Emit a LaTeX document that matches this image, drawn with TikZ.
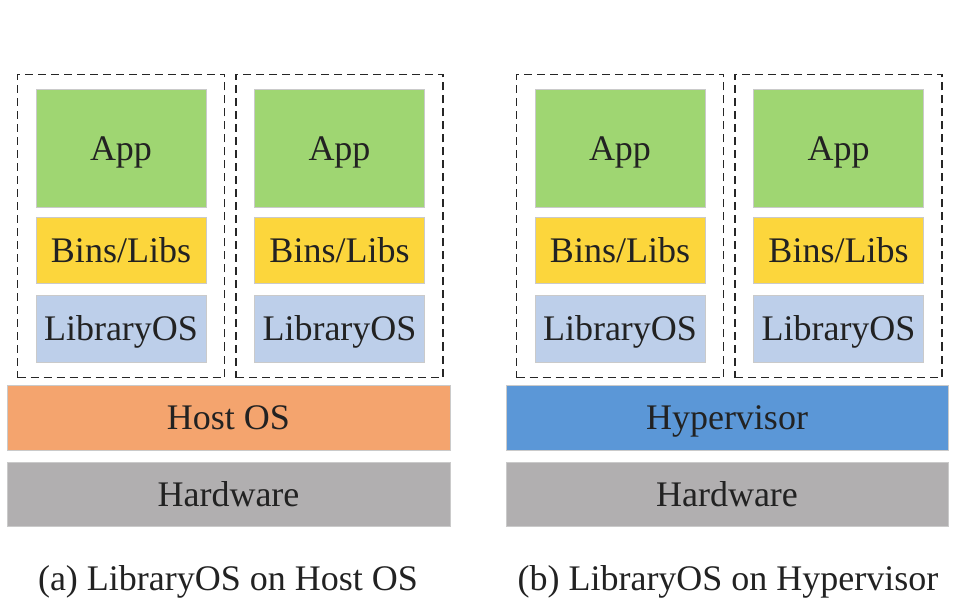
\documentclass[tikz,border=0pt]{standalone}
\usepackage{fontspec}
\setmainfont{Liberation Serif}
\usetikzlibrary{positioning, fit}

\definecolor{appgreen}{HTML}{9FD672}
\definecolor{binsyellow}{HTML}{FCD63C}
\definecolor{libblue}{HTML}{BDCFEA}
\definecolor{hostorange}{HTML}{F4A46E}
\definecolor{hypblue}{HTML}{5B97D7}
\definecolor{hwgray}{HTML}{B1AFB0}
\definecolor{edgegray}{HTML}{CACACA}
\definecolor{textdark}{HTML}{222222}

\begin{document}
\begin{tikzpicture}[x=1pt, y=-1pt,
    % Base style for all layer boxes
    layer/.style={draw=edgegray, line width=1pt, inner sep=0pt, text=textdark, font=\fontsize{36}{40}\selectfont, text height=30pt, text depth=6pt},
    % Per-container layers
    app/.style={layer, fill=appgreen, minimum width=170pt, minimum height=118pt},
    bins/.style={layer, fill=binsyellow, minimum width=170pt, minimum height=66pt},
    libos/.style={layer, fill=libblue, minimum width=170pt, minimum height=66pt},
    % Shared layers
    hostos/.style={layer, fill=hostorange, minimum width=443pt, minimum height=65pt},
    hyper/.style={layer, fill=hypblue, minimum width=442pt, minimum height=65pt},
    hw/.style={layer, fill=hwgray, minimum width=443pt, minimum height=64pt},
    % Dashed container around a stack
    container/.style={draw=black!85, line width=1.1pt, dash pattern=on 8pt off 5pt, inner xsep=18pt, inner ysep=15pt},
    caption/.style={text=textdark, font=\fontsize{36}{40}\selectfont}
]
\useasboundingbox (0,0) rectangle (956,612);

% Stacks: App / Bins/Libs / LibraryOS
\foreach \i/\x in {1/121, 2/339.5, 3/620, 4/838.5} {
    \node[app] (app\i) at (\x,149) {App};
    \node[bins, below=9pt of app\i] (bins\i) {Bins/Libs};
    \node[libos, below=11pt of bins\i] (libos\i) {LibraryOS};
    \node[container, fit=(app\i)(libos\i)] (box\i) {};
}

% (a) Host OS side
\node[hostos] (host) at (228.5,417.5) {Host OS};
\node[hw, below=11pt of host] (hwa) {Hardware};

% (b) Hypervisor side
\node[hyper] (hyp) at (727,417.5) {Hypervisor};
\node[hw, below=11pt of hyp, minimum width=442pt] (hwb) {Hardware};

% Captions
\node[caption] (capa) at (228,582) {(a) LibraryOS on Host OS};
\node[caption] (capb) at (728,582) {(b) LibraryOS on Hypervisor};

\end{tikzpicture}
\end{document}
